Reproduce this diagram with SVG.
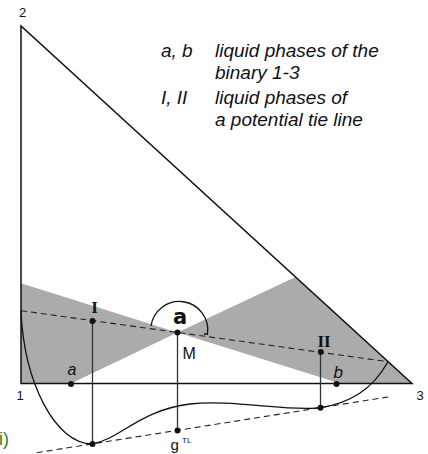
<svg xmlns="http://www.w3.org/2000/svg" width="428" height="454" viewBox="0 0 428 454">
<style>
.gray{fill:#ababab;stroke:none}
.edge{fill:none;stroke:#111;stroke-width:1.5}
.dash{fill:none;stroke:#222;stroke-width:1.1;stroke-dasharray:6,4}
.curve{fill:none;stroke:#111;stroke-width:1.3}
.vert{fill:none;stroke:#333;stroke-width:1.3}
.dot{fill:#111}
.lbl{font-family:"Liberation Sans",Arial,sans-serif;fill:#111}
.it{font-family:"Liberation Sans",Arial,sans-serif;font-style:italic;fill:#111}
.rom{font-family:"Liberation Serif","Times New Roman",serif;font-weight:bold;fill:#111}
</style>
<g id="shading">
<polygon class="gray" points="21,283.3 177.5,332.4 71,383.5 21,383.5"/>
<polygon class="gray" points="177.5,332.4 295.5,277 412,383.5 340.4,383.5"/>
</g>
<g id="connectors">
<path class="edge" d="M21,26 L21,383.5 L412,383.5 Z"/>
<line class="dash" x1="21" y1="310.7" x2="388" y2="361.7"/>
<line class="dash" x1="36.7" y1="452.7" x2="389.7" y2="396.7"/>
<path class="curve" d="M21,310.7 C24,382 55,444 92.5,443.9 C120,439 140,410 190,404 C230,399 290,412 320.5,407.7 C350,403 372,390 388,361.7"/>
<line class="vert" x1="92.5" y1="321" x2="92.5" y2="443.9"/>
<line class="vert" x1="177.5" y1="332.4" x2="177.5" y2="430.4"/>
<line class="vert" x1="320.5" y1="352.3" x2="320.5" y2="407.7"/>
<path class="curve" d="M151,326 A28.5,28.5 0 1 1 207.5,334 M204,334 L208,334"/>
</g>
<g id="vertex-1"><text class="lbl" x="20" y="400" font-size="13" text-anchor="middle">1</text></g>
<g id="vertex-2"><text class="lbl" x="22.5" y="17" font-size="13" text-anchor="middle">2</text></g>
<g id="vertex-3"><text class="lbl" x="420" y="400" font-size="13" text-anchor="middle">3</text></g>
<g id="node-I"><circle class="dot" cx="92.5" cy="321" r="3"/><text class="rom" x="94.5" y="313" font-size="17" text-anchor="middle">I</text></g>
<g id="node-II"><circle class="dot" cx="320.8" cy="352" r="3"/><text class="rom" x="324" y="346.5" font-size="17" text-anchor="middle">II</text></g>
<g id="node-M"><circle class="dot" cx="177.5" cy="332.4" r="3"/><text class="lbl" x="182.5" y="359" font-size="16">M</text></g>
<g id="node-alpha"><text x="180" y="324" font-family="'DejaVu Sans',sans-serif" font-weight="bold" font-size="21" fill="#111" text-anchor="middle">a</text></g>
<g id="node-a"><circle class="dot" cx="71" cy="384" r="3"/><text class="it" x="67.5" y="375" font-size="16">a</text></g>
<g id="node-b"><circle class="dot" cx="336.5" cy="384" r="3"/><text class="it" x="333.5" y="377.5" font-size="17">b</text></g>
<g id="node-Ibottom"><circle class="dot" cx="92.5" cy="443.9" r="3"/></g>
<g id="node-IIbottom"><circle class="dot" cx="320.5" cy="407.7" r="3"/></g>
<g id="node-gTL"><circle class="dot" cx="177.5" cy="430.4" r="3"/><text class="lbl" x="170.5" y="450" font-size="15">g</text><text class="lbl" x="182" y="443" font-size="8">TL</text></g>
<g id="label-i"><text x="-1" y="445" font-family="'Liberation Sans',Arial,sans-serif" font-size="18" fill="#2a7d2a">i)</text></g>
<g id="legend">
<text class="it" x="161" y="57" font-size="19">a, b</text>
<text class="it" x="215" y="57" font-size="19">liquid phases of the</text>
<text class="it" x="215" y="79" font-size="19">binary 1-3</text>
<text class="it" x="161" y="104" font-size="19">I, II</text>
<text class="it" x="215" y="104" font-size="19">liquid phases of</text>
<text class="it" x="215" y="126" font-size="19">a potential tie line</text>
</g>
</svg>
